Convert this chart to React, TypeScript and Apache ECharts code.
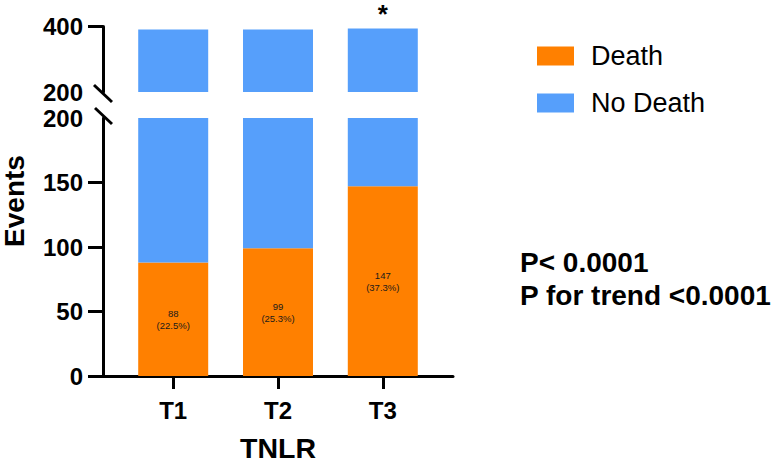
import { useEffect, useRef } from "react";
import * as echarts from "echarts";

const categories = ["T1", "T2", "T3"];
const deathEvents = [88, 99, 147];
const noDeathEvents = [303, 292, 247];
const deathPercent = ["22.5", "25.3", "37.3"];
const significance = ["", "", "*"];
const lowerLabels = [0, 50, 100, 150, 200];
const lowerTicks = [0, 50, 100, 150];
const upperLabels = [200, 400];
const upperTicks = [400];
const statLines = ["P< 0.0001", "P for trend <0.0001"];

const ORANGE = "#FF8000";
const BLUE = "#569FFB";
const FONT = "'Liberation Sans', Arial, Helvetica, sans-serif";

export default function App() {
  const ref = useRef<HTMLDivElement>(null);

  useEffect(() => {
    const chart = echarts.init(ref.current!, null, { renderer: "svg" });
    const xIdx = categories.map((_, i) => i);
    const lineStyle = { color: "#000", width: 3 };
    const xMin = -0.67;
    const xMax = 2.67;

    const makeX = (gridIndex: number, show: boolean) => ({
      type: "value",
      gridIndex,
      min: xMin,
      max: xMax,
      show,
      axisLine: { show: true, onZero: false, lineStyle },
      splitLine: { show: false },
      axisTick: { show: true, customValues: xIdx, length: 13, lineStyle },
      axisLabel: {
        customValues: xIdx,
        formatter: (v: number) => categories[Math.round(v)] ?? "",
        fontSize: 24,
        fontWeight: "bold",
        fontFamily: FONT,
        color: "#000",
        margin: 22,
      },
      name: show ? "TNLR" : "",
      nameLocation: "middle",
      nameGap: 58,
      nameTextStyle: { fontSize: 28.5, lineHeight: 28, fontWeight: "bold", fontFamily: FONT, color: "#000" },
    });

    const makeY = (gridIndex: number, min: number, max: number, labels: number[], ticks: number[]) => ({
      type: "value",
      gridIndex,
      min,
      max,
      axisLine: { show: true, onZero: false, lineStyle },
      splitLine: { show: false },
      axisTick: { show: true, customValues: ticks, length: 15, lineStyle },
      axisLabel: {
        customValues: labels,
        fontSize: 24,
        fontWeight: "bold",
        fontFamily: FONT,
        color: "#000",
        margin: 20,
      },
    });

    // value first, category position second, so that stacking happens on y
    const pairs = (arr: number[]) => arr.map((v, i) => [v, i]);
    const encode = { x: 1, y: 0 };

    chart.setOption({
      animation: false,
      backgroundColor: "#fff",
      grid: [
        { left: 103, width: 350, top: 26.5, height: 65.5, outerBoundsMode: "none", containLabel: false },
        { left: 103, width: 350, top: 118, height: 258, outerBoundsMode: "none", containLabel: false },
      ],
      xAxis: [makeX(0, false), makeX(1, true)],
      yAxis: [
        makeY(0, 200, 400, upperLabels, upperTicks),
        makeY(1, 0, 200, lowerLabels, lowerTicks),
      ],
      legend: {
        orient: "vertical",
        left: 532,
        top: 37.5,
        itemWidth: 37,
        itemHeight: 19,
        itemGap: 20,
        icon: "rect",
        data: ["Death", "No Death"],
        formatter: (name: string) => "{g|}" + name,
        textStyle: {
          fontSize: 27,
          lineHeight: 27,
          fontFamily: FONT,
          color: "#000",
          rich: { g: { width: 12 } },
        },
      },
      graphic: [
        {
          type: "line",
          shape: { x1: 94, y1: 85, x2: 112, y2: 102 },
          style: { stroke: "#000", lineWidth: 3 },
        },
        {
          type: "line",
          shape: { x1: 95, y1: 108, x2: 112, y2: 124 },
          style: { stroke: "#000", lineWidth: 3 },
        },
        {
          type: "text",
          x: 14,
          y: 201,
          rotation: Math.PI / 2,
          style: {
            text: "Events",
            fontSize: 28,
            fontWeight: "bold",
            fontFamily: FONT,
            fill: "#000",
            align: "center",
            verticalAlign: "middle",
          },
        },
        ...statLines.map((t, i) => ({
          type: "text",
          x: 520,
          y: 262 + i * 33.5,
          style: {
            text: t,
            fontSize: 28,
            fontWeight: "bold",
            fontFamily: FONT,
            fill: "#000",
            align: "left",
            verticalAlign: "middle",
          },
        })),
      ],
      series: [
        {
          name: "Death",
          type: "bar",
          xAxisIndex: 1,
          yAxisIndex: 1,
          stack: "lower",
          barWidth: 70,
          encode,
          itemStyle: { color: ORANGE },
          data: pairs(deathEvents),
          label: {
            show: true,
            position: "inside",
            formatter: (p: any) => `${deathEvents[p.dataIndex]}\n(${deathPercent[p.dataIndex]}%)`,
            fontSize: 9.5,
            lineHeight: 12,
            fontFamily: FONT,
            color: "#1a1a1a",
          },
        },
        {
          name: "No Death",
          type: "bar",
          xAxisIndex: 1,
          yAxisIndex: 1,
          stack: "lower",
          barWidth: 70,
          encode,
          itemStyle: { color: BLUE },
          data: pairs(noDeathEvents),
        },
        {
          name: "Death",
          type: "bar",
          xAxisIndex: 0,
          yAxisIndex: 0,
          stack: "upper",
          barWidth: 70,
          encode,
          itemStyle: { color: ORANGE },
          data: pairs(deathEvents),
        },
        {
          name: "No Death",
          type: "bar",
          xAxisIndex: 0,
          yAxisIndex: 0,
          stack: "upper",
          barWidth: 70,
          encode,
          itemStyle: { color: BLUE },
          data: pairs(noDeathEvents),
          label: {
            show: true,
            position: "top",
            distance: 1,
            formatter: (p: any) => significance[p.dataIndex],
            fontSize: 26,
            fontWeight: "bold",
            fontFamily: FONT,
            color: "#000",
          },
        },
      ],
    });

    return () => chart.dispose();
  }, []);

  return (
    <div
      ref={ref}
      style={{ position: "fixed", left: 0, top: 0, width: 779, height: 463, background: "#fff" }}
    />
  );
}
